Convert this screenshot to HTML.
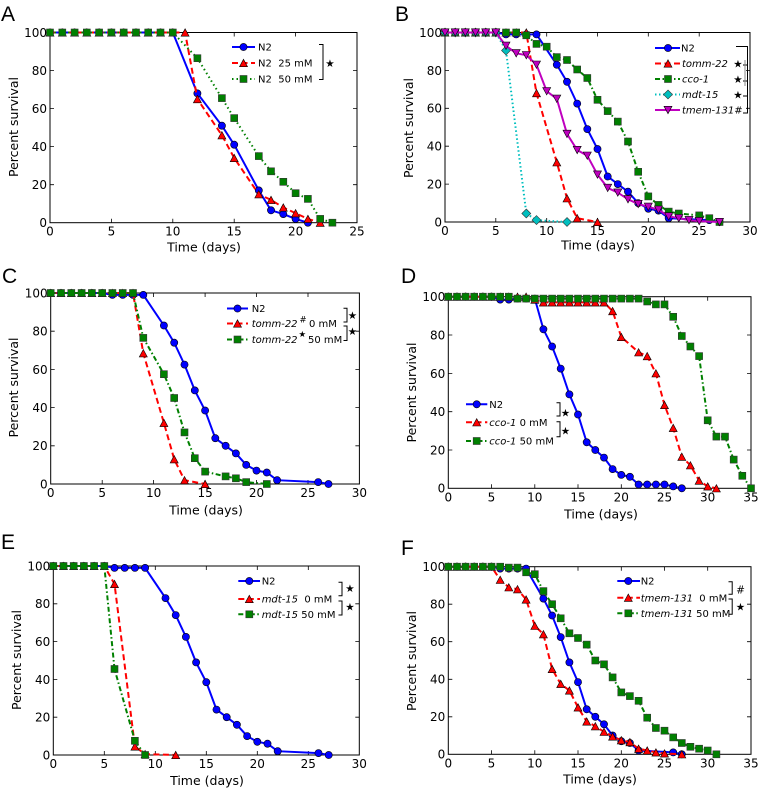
<!DOCTYPE html>
<html><head><meta charset="utf-8">
<style>
html,body{margin:0;padding:0;background:#fff;}
svg{display:block;}
text{font-family:"DejaVu Sans","Liberation Sans",sans-serif;fill:#000;}
.tk{font-size:12px;}
.lab{font-size:12.5px;}
.lg{font-size:10px;}
.it{font-style:italic;}
.pl{font-family:"Liberation Sans",sans-serif;font-size:21px;}
.fr{fill:none;stroke:#000;stroke-width:1;}
.tc{fill:none;stroke:#000;stroke-width:0.8;}
.br{fill:none;stroke:#000;stroke-width:1;}
.b{fill:none;stroke:#0000ff;stroke-width:2;marker-start:url(#mc);marker-mid:url(#mc);marker-end:url(#mc);}
.r{fill:none;stroke:#ff0000;stroke-width:2;stroke-dasharray:6 3.5;marker-start:url(#mt);marker-mid:url(#mt);marker-end:url(#mt);}
.g{fill:none;stroke:#008000;stroke-width:2;stroke-dasharray:5 2.5 1.5 2.5;marker-start:url(#ms);marker-mid:url(#ms);marker-end:url(#ms);}
.gd{stroke-dasharray:1.5 3;}
.c{fill:none;stroke:#00bfbf;stroke-width:2;stroke-dasharray:1.5 2.5;marker-start:url(#md);marker-mid:url(#md);marker-end:url(#md);}
.m{fill:none;stroke:#bf00bf;stroke-width:2;marker-start:url(#mv);marker-mid:url(#mv);marker-end:url(#mv);}
.leg{marker-start:none;marker-end:none;}
.st{font-size:10.5px;}
</style></head>
<body>
<svg width="763" height="789" viewBox="0 0 763 789" xmlns="http://www.w3.org/2000/svg">
<defs>
<marker id="mc" markerUnits="userSpaceOnUse" markerWidth="10" markerHeight="10" refX="5" refY="5" orient="0" overflow="visible"><circle cx="5" cy="5" r="3.6" fill="#0000ff" stroke="#000" stroke-width="0.6" stroke-dasharray="none"/></marker>
<marker id="mt" markerUnits="userSpaceOnUse" markerWidth="10" markerHeight="10" refX="5" refY="5" orient="0" overflow="visible"><polygon points="5,1.3 9,8.7 1,8.7" fill="#ff0000" stroke="#000" stroke-width="0.6" stroke-dasharray="none"/></marker>
<marker id="ms" markerUnits="userSpaceOnUse" markerWidth="10" markerHeight="10" refX="5" refY="5" orient="0" overflow="visible"><rect x="1.5" y="1.5" width="7" height="7" fill="#008000" stroke="#333" stroke-width="0.6" stroke-dasharray="none"/></marker>
<marker id="md" markerUnits="userSpaceOnUse" markerWidth="10" markerHeight="10" refX="5" refY="5" orient="0" overflow="visible"><polygon points="5,0.5 9.5,5 5,9.5 0.5,5" fill="#00bfbf" stroke="#333" stroke-width="0.6" stroke-dasharray="none"/></marker>
<marker id="mv" markerUnits="userSpaceOnUse" markerWidth="10" markerHeight="10" refX="5" refY="5" orient="0" overflow="visible"><polygon points="1,1.3 9,1.3 5,8.7" fill="#bf00bf" stroke="#000" stroke-width="0.6" stroke-dasharray="none"/></marker>
</defs>
<rect x="0" y="0" width="763" height="789" fill="#fff"/>

<!-- ================= PANEL A ================= -->
<text class="pl" x="1" y="21">A</text>
<rect class="fr" x="50" y="32.5" width="307" height="190.2"/>
<path class="tc" d="M111.4,222.7v-4M172.8,222.7v-4M234.2,222.7v-4M295.6,222.7v-4M111.4,32.5v4M172.8,32.5v4M234.2,32.5v4M295.6,32.5v4M50,184.7h4M50,146.6h4M50,108.6h4M50,70.5h4M357,184.7h-4M357,146.6h-4M357,108.6h-4M357,70.5h-4"/>
<g class="tk" text-anchor="end">
<text x="47" y="227.1">0</text><text x="47" y="189.1">20</text><text x="47" y="151">40</text><text x="47" y="113">60</text><text x="47" y="74.9">80</text><text x="47" y="36.9">100</text>
</g>
<g class="tk" text-anchor="middle">
<text x="50" y="235.7">0</text><text x="111.4" y="235.7">5</text><text x="172.8" y="235.7">10</text><text x="234.2" y="235.7">15</text><text x="295.6" y="235.7">20</text><text x="357" y="235.7">25</text>
</g>
<text class="lab" text-anchor="middle" x="204" y="251.5">Time (days)</text>
<text class="lab" text-anchor="middle" transform="translate(17.75,127) rotate(-90)">Percent survival</text>
<polyline class="b" points="50,32.5 62.3,32.5 74.6,32.5 86.8,32.5 99.1,32.5 111.4,32.5 123.7,32.5 136,32.5 148.2,32.5 160.5,32.5 172.8,32.5 197.4,93.4 221.9,125.7 234.2,144.7 258.8,190.4 271,210.3 283.3,214.1 295.6,218.9 307.9,222.7"/>
<polyline class="r" points="50,32.5 62.3,32.5 74.6,32.5 86.8,32.5 99.1,32.5 111.4,32.5 123.7,32.5 136,32.5 148.2,32.5 160.5,32.5 172.8,32.5 185.1,32.5 197.4,99.1 221.9,135.2 234.2,158 258.8,194.2 271,199.9 283.3,207.5 295.6,213.2 307.9,218.9 320.2,222.7"/>
<polyline class="g gd" points="50,32.5 62.3,32.5 74.6,32.5 86.8,32.5 99.1,32.5 111.4,32.5 123.7,32.5 136,32.5 148.2,32.5 160.5,32.5 172.8,32.5 197.4,58.2 221.9,98.1 234.2,118.1 258.8,156.1 271,171.3 283.3,181.8 295.6,193.2 307.9,198.9 320.2,218.9 332.4,222.7"/>
<polyline class="b leg" points="232,47 243.5,47 255,47"/>
<polyline class="r leg" points="232,63 243.5,63 255,63"/>
<polyline class="g gd leg" points="232,79 243.5,79 255,79"/>
<g class="lg">
<text x="258" y="50.6">N2</text>
<text x="258" y="66.6">N2&#160; 25 mM</text>
<text x="258" y="82.6">N2&#160; 50 mM</text>
</g>
<path class="br" d="M319,44.5H323V79.5H319"/>
<text class="st" x="330" y="66.8" text-anchor="middle">★</text>

<!-- ================= PANEL B ================= -->
<text class="pl" x="395" y="21">B</text>
<rect class="fr" x="445" y="32.5" width="305" height="189.5"/>
<path class="tc" d="M495.8,222v-4M546.7,222v-4M597.5,222v-4M648.3,222v-4M699.2,222v-4M495.8,32.5v4M546.7,32.5v4M597.5,32.5v4M648.3,32.5v4M699.2,32.5v4M445,184.1h4M445,146.2h4M445,108.3h4M445,70.4h4M750,184.1h-4M750,146.2h-4M750,108.3h-4M750,70.4h-4"/>
<g class="tk" text-anchor="end">
<text x="442" y="226.4">0</text><text x="442" y="188.5">20</text><text x="442" y="150.6">40</text><text x="442" y="112.7">60</text><text x="442" y="74.8">80</text><text x="442" y="36.9">100</text>
</g>
<g class="tk" text-anchor="middle">
<text x="445" y="235">0</text><text x="495.8" y="235">5</text><text x="546.7" y="235">10</text><text x="597.5" y="235">15</text><text x="648.3" y="235">20</text><text x="699.2" y="235">25</text><text x="750" y="235">30</text>
</g>
<text class="lab" text-anchor="middle" x="598" y="249.5">Time (days)</text>
<text class="lab" text-anchor="middle" transform="translate(412.75,128) rotate(-90)">Percent survival</text>
<polyline class="b" points="445,32.5 455.2,32.5 465.3,32.5 475.5,32.5 485.7,32.5 495.8,32.5 506,34.4 516.2,34.4 526.3,34.4 536.5,34.4 556.8,64.7 567,81.8 577.2,103.6 587.3,129.1 597.5,149 607.7,176.5 617.8,184.1 628,191.7 638.2,203.1 648.3,208.7 658.5,210.6 668.7,218.2 709.3,220.1 719.5,222"/>
<polyline class="r" points="445,32.5 455.2,32.5 465.3,32.5 475.5,32.5 485.7,32.5 495.8,32.5 506,32.5 516.2,32.5 526.3,32.5 536.5,93.1 556.8,162.3 567,198.3 577.2,218.2 597.5,222"/>
<polyline class="g" points="445,32.5 455.2,32.5 465.3,32.5 475.5,32.5 485.7,32.5 495.8,32.5 506,32.5 516.2,32.5 526.3,35.3 536.5,43.9 546.7,46.7 556.8,57.1 567,60 577.2,69.5 587.3,78 597.5,99.8 607.7,111.1 617.8,121.6 628,141.5 638.2,171.8 648.3,196.4 658.5,204.9 668.7,211.6 678.8,213.5 699.2,215.4 709.3,218.2 719.5,222"/>
<polyline class="c" points="445,32.5 455.2,32.5 465.3,32.5 475.5,32.5 485.7,32.5 495.8,32.5 506,50.5 526.3,213.5 536.5,220.1 567,222"/>
<polyline class="m" points="445,32.5 455.2,32.5 465.3,32.5 475.5,32.5 485.7,32.5 495.8,32.5 506,45.8 516.2,53.3 526.3,55.2 536.5,64.7 546.7,91.2 556.8,98.8 567,133.9 577.2,150 587.3,155.7 597.5,174.6 607.7,187.9 617.8,192.6 628,199.3 638.2,204 648.3,206.8 658.5,209.7 668.7,216.3 678.8,218.2 689,220.1 699.2,221.1 719.5,222"/>
<polyline class="b leg" points="655,48 668,48 680,48"/>
<polyline class="r leg" points="655,63.5 668,63.5 680,63.5"/>
<polyline class="g leg" points="655,79 668,79 680,79"/>
<polyline class="c leg" points="655,94.5 668,94.5 680,94.5"/>
<polyline class="m leg" points="655,110 668,110 680,110"/>
<g class="lg">
<text x="681" y="51.6">N2</text>
<text x="682" y="67.1" class="it">tomm-22</text>
<text x="682" y="82.6" class="it">cco-1</text>
<text x="682" y="98.1" class="it">mdt-15</text>
<text x="682" y="113.6"><tspan class="it">tmem-131</tspan>#</text>
</g>
<g class="st" text-anchor="middle">
<text x="738" y="67.3">★</text><text x="738" y="82.8">★</text><text x="738" y="98.3">★</text>
</g>
<path class="br" d="M736,46.5H747.5V113H743M743,65H747.5M743,81H747.5M743,96H747.5"/>
<path d="M745,60V86" stroke="#888" stroke-width="1" fill="none"/>

<!-- ================= PANEL C ================= -->
<text class="pl" x="2" y="283">C</text>
<rect class="fr" x="50.7" y="293" width="308.7" height="191"/>
<path class="tc" d="M102.2,484v-4M153.6,484v-4M205.1,484v-4M256.5,484v-4M308,484v-4M102.2,293v4M153.6,293v4M205.1,293v4M256.5,293v4M308,293v4M50.7,445.8h4M50.7,407.6h4M50.7,369.4h4M50.7,331.2h4M359.4,445.8h-4M359.4,407.6h-4M359.4,369.4h-4M359.4,331.2h-4"/>
<g class="tk" text-anchor="end">
<text x="47.7" y="488.4">0</text><text x="47.7" y="450.2">20</text><text x="47.7" y="412">40</text><text x="47.7" y="373.8">60</text><text x="47.7" y="335.6">80</text><text x="47.7" y="297.4">100</text>
</g>
<g class="tk" text-anchor="middle">
<text x="50.7" y="497">0</text><text x="102.2" y="497">5</text><text x="153.6" y="497">10</text><text x="205.1" y="497">15</text><text x="256.5" y="497">20</text><text x="308" y="497">25</text><text x="359.4" y="497">30</text>
</g>
<text class="lab" text-anchor="middle" x="206" y="514.5">Time (days)</text>
<text class="lab" text-anchor="middle" transform="translate(17.75,387.5) rotate(-90)">Percent survival</text>
<polyline class="b" points="50.7,293 61,293 71.3,293 81.6,293 91.9,293 102.2,293 112.4,294.9 122.7,294.9 133,294.9 143.3,294.9 163.9,325.5 174.2,342.7 184.5,364.6 194.8,390.4 205.1,410.5 215.3,438.2 225.6,445.8 235.9,453.4 246.2,464.9 256.5,470.6 266.8,472.5 277.1,480.2 318.2,482.1 328.5,484"/>
<polyline class="r" points="50.7,293 61,293 71.3,293 81.6,293 91.9,293 102.2,293 112.4,293 122.7,293 133,293 143.3,353.2 163.9,422.9 174.2,459.2 184.5,480.2 205.1,484"/>
<polyline class="g" points="50.7,293 61,293 71.3,293 81.6,293 91.9,293 102.2,293 112.4,293 122.7,293 133,293 143.3,337.9 163.9,374.2 174.2,398 184.5,432.4 194.8,458.2 205.1,471.6 225.6,476.4 235.9,478.3 246.2,482.1 266.8,484"/>
<polyline class="b leg" points="227,308.5 237.5,308.5 248,308.5"/>
<polyline class="r leg" points="227,323.5 237.5,323.5 248,323.5"/>
<polyline class="g leg" points="227,339.5 237.5,339.5 248,339.5"/>
<g class="lg">
<text x="251.7" y="312.1">N2</text>
<text x="251.7" y="327.1" class="it">tomm-22</text>
<text x="299.5" y="322.5" font-size="8.5">#</text>
<text x="309" y="327.1">0 mM</text>
<text x="251.7" y="343.1" class="it">tomm-22</text>
<text x="298.5" y="337" font-size="8.5">★</text>
<text x="308" y="343.1">50 mM</text>
</g>
<path class="br" d="M343.5,308.3H347V322H343.5M343.5,326H347V340.5H343.5"/>
<g class="st" text-anchor="middle">
<text x="352.5" y="318.8">★</text><text x="352.5" y="335">★</text>
</g>

<!-- ================= PANEL D ================= -->
<text class="pl" x="401" y="283">D</text>
<rect class="fr" x="448.3" y="296.7" width="302.7" height="191.6"/>
<path class="tc" d="M491.5,488.3v-4M534.8,488.3v-4M578,488.3v-4M621.3,488.3v-4M664.5,488.3v-4M707.7,488.3v-4M491.5,296.7v4M534.8,296.7v4M578,296.7v4M621.3,296.7v4M664.5,296.7v4M707.7,296.7v4M448.3,450h4M448.3,411.7h4M448.3,373.4h4M448.3,335h4M751,450h-4M751,411.7h-4M751,373.4h-4M751,335h-4"/>
<g class="tk" text-anchor="end">
<text x="445.3" y="492.7">0</text><text x="445.3" y="454.4">20</text><text x="445.3" y="416.1">40</text><text x="445.3" y="377.8">60</text><text x="445.3" y="339.4">80</text><text x="445.3" y="301.1">100</text>
</g>
<g class="tk" text-anchor="middle">
<text x="448.3" y="501.3">0</text><text x="491.5" y="501.3">5</text><text x="534.8" y="501.3">10</text><text x="578" y="501.3">15</text><text x="621.3" y="501.3">20</text><text x="664.5" y="501.3">25</text><text x="707.7" y="501.3">30</text><text x="751" y="501.3">35</text>
</g>
<text class="lab" text-anchor="middle" x="601" y="518.5">Time (days)</text>
<text class="lab" text-anchor="middle" transform="translate(415.75,392.5) rotate(-90)">Percent survival</text>
<polyline class="b" points="448.3,296.7 457,296.7 465.6,296.7 474.2,296.7 482.9,296.7 491.5,296.7 500.2,299.6 508.8,299.6 517.5,298.6 526.1,298.6 534.8,298.6 543.4,329.3 552.1,346.5 560.7,368.6 569.4,394.4 578,414.5 586.7,442.3 595.3,450 604,457.6 612.6,469.1 621.3,474.9 629.9,476.8 638.6,484.5 647.2,484.5 655.9,484.5 664.5,484.5 673.2,486.4 681.8,488.3"/>
<polyline class="r" points="448.3,296.7 457,296.7 465.6,296.7 474.2,296.7 482.9,296.7 491.5,296.7 500.2,296.7 508.8,296.7 517.5,296.7 526.1,296.7 534.8,299.6 543.4,302.4 552.1,302.4 560.7,302.4 569.4,302.4 578,302.4 586.7,302.4 595.3,302.4 604,302.4 612.6,311.1 621.3,337 638.6,352.3 647.2,356.1 655.9,373.3 664.5,405 673.2,427.9 681.8,456.7 690.4,465.3 699.1,480.6 707.7,486.4 716.4,488.3"/>
<polyline class="g" points="448.3,296.7 457,296.7 465.6,296.7 474.2,296.7 482.9,296.7 491.5,296.7 500.2,296.7 508.8,296.7 517.5,298.6 526.1,298.6 534.8,298.6 543.4,298.6 552.1,298.6 560.7,298.6 569.4,298.6 578,298.6 586.7,298.6 595.3,298.6 604,298.6 612.6,298.6 621.3,298.6 629.9,298.6 638.6,298.6 647.2,301.5 655.9,304.4 664.5,304.4 673.2,316.8 681.8,336 690.4,346.5 699.1,356.1 707.7,420.3 716.4,436.6 725,436.6 733.7,459.6 742.3,475.8 751,488.3"/>
<polyline class="b leg" points="466,404.3 476.7,404.3 487.3,404.3"/>
<polyline class="r leg" points="466,422.3 476.7,422.3 487.3,422.3"/>
<polyline class="g leg" points="466,441 476.7,441 487.3,441"/>
<g class="lg">
<text x="489.3" y="407.9">N2</text>
<text x="489.3" y="425.9"><tspan class="it">cco-1</tspan> 0 mM</text>
<text x="489.3" y="444.6"><tspan class="it">cco-1</tspan> 50 mM</text>
</g>
<path class="br" d="M556.5,402.7H560V416H556.5M556.5,421.7H560V436.7H556.5"/>
<g class="st" text-anchor="middle">
<text x="565.5" y="416.5">★</text><text x="565.5" y="434.5">★</text>
</g>

<!-- ================= PANEL E ================= -->
<text class="pl" x="1" y="549">E</text>
<rect class="fr" x="53.3" y="566" width="306" height="189"/>
<path class="tc" d="M104.3,755v-4M155.3,755v-4M206.3,755v-4M257.3,755v-4M308.3,755v-4M104.3,566v4M155.3,566v4M206.3,566v4M257.3,566v4M308.3,566v4M53.3,717.2h4M53.3,679.4h4M53.3,641.6h4M53.3,603.8h4M359.3,717.2h-4M359.3,679.4h-4M359.3,641.6h-4M359.3,603.8h-4"/>
<g class="tk" text-anchor="end">
<text x="50.3" y="759.4">0</text><text x="50.3" y="721.6">20</text><text x="50.3" y="683.8">40</text><text x="50.3" y="646">60</text><text x="50.3" y="608.2">80</text><text x="50.3" y="570.4">100</text>
</g>
<g class="tk" text-anchor="middle">
<text x="53.3" y="768">0</text><text x="104.3" y="768">5</text><text x="155.3" y="768">10</text><text x="206.3" y="768">15</text><text x="257.3" y="768">20</text><text x="308.3" y="768">25</text><text x="359.3" y="768">30</text>
</g>
<text class="lab" text-anchor="middle" x="207" y="785">Time (days)</text>
<text class="lab" text-anchor="middle" transform="translate(20.75,660) rotate(-90)">Percent survival</text>
<polyline class="b" points="53.3,566 63.5,566 73.7,566 83.9,566 94.1,566 104.3,566 114.5,567.9 124.7,567.9 134.9,567.9 145.1,567.9 165.5,598.1 175.7,615.1 185.9,636.9 196.1,662.4 206.3,682.2 216.5,709.6 226.7,717.2 236.9,724.8 247.1,736.1 257.3,741.8 267.5,743.7 277.7,751.2 318.5,753.1 328.7,755"/>
<polyline class="r" points="53.3,566 63.5,566 73.7,566 83.9,566 94.1,566 104.3,566 114.5,584 134.9,746.5 145.1,754.1 175.7,755"/>
<polyline class="g" points="53.3,566 63.5,566 73.7,566 83.9,566 94.1,566 104.3,566 114.5,669 134.9,740.8 145.1,755"/>
<polyline class="b leg" points="238.3,581 249.3,581 260,581"/>
<polyline class="r leg" points="238.3,599 249.3,599 260,599"/>
<polyline class="g leg" points="238.3,614.3 249.3,614.3 260,614.3"/>
<g class="lg">
<text x="261.7" y="584.6">N2</text>
<text x="261.7" y="602.6"><tspan class="it">mdt-15</tspan>&#160; 0 mM</text>
<text x="261.7" y="617.9"><tspan class="it">mdt-15</tspan> 50 mM</text>
</g>
<path class="br" d="M338.5,582.3H342V595.7H338.5M338.5,601H342V615H338.5"/>
<g class="st" text-anchor="middle">
<text x="350" y="592">★</text><text x="350" y="610.5">★</text>
</g>

<!-- ================= PANEL F ================= -->
<text class="pl" x="401" y="555">F</text>
<rect class="fr" x="448.3" y="566.7" width="302.7" height="187.6"/>
<path class="tc" d="M491.5,754.3v-4M534.8,754.3v-4M578,754.3v-4M621.3,754.3v-4M664.5,754.3v-4M707.7,754.3v-4M491.5,566.7v4M534.8,566.7v4M578,566.7v4M621.3,566.7v4M664.5,566.7v4M707.7,566.7v4M448.3,716.8h4M448.3,679.3h4M448.3,641.7h4M448.3,604.2h4M751,716.8h-4M751,679.3h-4M751,641.7h-4M751,604.2h-4"/>
<g class="tk" text-anchor="end">
<text x="445.3" y="758.7">0</text><text x="445.3" y="721.2">20</text><text x="445.3" y="683.7">40</text><text x="445.3" y="646.1">60</text><text x="445.3" y="608.6">80</text><text x="445.3" y="571.1">100</text>
</g>
<g class="tk" text-anchor="middle">
<text x="448.3" y="767.3">0</text><text x="491.5" y="767.3">5</text><text x="534.8" y="767.3">10</text><text x="578" y="767.3">15</text><text x="621.3" y="767.3">20</text><text x="664.5" y="767.3">25</text><text x="707.7" y="767.3">30</text><text x="751" y="767.3">35</text>
</g>
<text class="lab" text-anchor="middle" x="600" y="783.3">Time (days)</text>
<text class="lab" text-anchor="middle" transform="translate(415.75,661) rotate(-90)">Percent survival</text>
<polyline class="b" points="448.3,566.7 457,566.7 465.6,566.7 474.2,566.7 482.9,566.7 491.5,566.7 500.2,568.6 508.8,568.6 517.5,568.6 526.1,568.6 543.4,598.6 552.1,615.5 560.7,637.1 569.4,662.4 578,682.1 586.7,709.3 595.3,716.8 604,724.3 612.6,735.5 621.3,741.2 629.9,743 638.6,750.5 673.2,752.4 681.8,754.3"/>
<polyline class="r" points="448.3,566.7 457,566.7 465.6,566.7 474.2,566.7 482.9,566.7 491.5,566.7 500.2,579.8 508.8,587.3 517.5,589.2 526.1,599.5 534.8,625.8 543.4,634.2 552.1,669 560.7,683.9 569.4,690.5 578,707.4 586.7,721.5 595.3,726.2 604,731.8 612.6,736.5 621.3,740.2 629.9,742.1 638.6,748.7 647.2,750.5 655.9,752.4 664.5,753.4 681.8,754.3"/>
<polyline class="g" points="448.3,566.7 457,566.7 465.6,566.7 474.2,566.7 482.9,566.7 491.5,566.7 500.2,566.7 508.8,567.6 517.5,567.6 526.1,572.3 534.8,574.2 543.4,591.1 552.1,604.2 560.7,618.3 569.4,633.3 578,638 586.7,644.6 595.3,660.5 604,664.3 612.6,677.4 621.3,692.4 629.9,696.1 638.6,700.8 647.2,717.7 655.9,728 664.5,730.7 673.2,737.4 681.8,743 690.4,746.8 699.1,748.7 707.7,750.5 716.4,754.3"/>
<polyline class="b leg" points="617.3,581 628.3,581 640,581"/>
<polyline class="r leg" points="617.3,597.7 628.3,597.7 640,597.7"/>
<polyline class="g leg" points="617.3,613.3 628.3,613.3 640,613.3"/>
<g class="lg">
<text x="640.7" y="584.6">N2</text>
<text x="640.7" y="601.3"><tspan class="it">tmem-131</tspan>&#160; 0 mM</text>
<text x="640.7" y="616.9"><tspan class="it">tmem-131</tspan> 50 mM</text>
</g>
<path class="br" d="M728.5,581.7H732.2V594.3H728.5M728.5,599H732.2V614.3H728.5"/>
<text x="740.5" y="593.5" font-size="10.5" text-anchor="middle">#</text>
<text class="st" x="740.5" y="610.5" text-anchor="middle">★</text>
</svg>
</body></html>
